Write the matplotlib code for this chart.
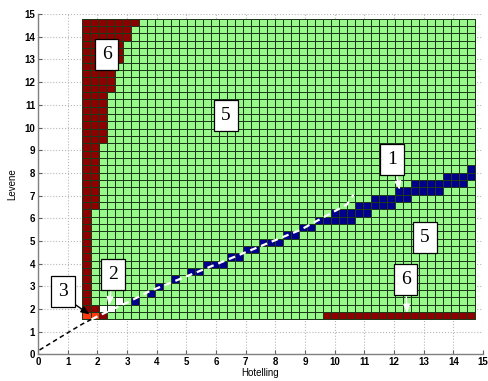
import numpy as np
import matplotlib
matplotlib.use('Agg')
import matplotlib.pyplot as plt
from matplotlib.colors import ListedColormap, BoundaryNorm

# ---------------- data ----------------
x_ticks = list(range(0, 16))
y_ticks = list(range(0, 16))

# cell grid (Hotelling x Levene)
n_cols = 49
n_rows = 41
x_range = (1.5, 14.74)
y_range = (1.55, 14.8)

# region codes: 5 = green, 1 = blue, 2 = white, 3 = orange-red, 6 = dark red
# number of dark-red cells on the left, per row (bottom -> top)
left_red_width = [3, 2] + [1] * 13 + [2] * 9 + [3] * 7 + [4] * 4 + [5] * 3 + [6] * 2 + [7]
bottom_red_first_col = 30          # dark-red bottom strip (row 0)
blue_cols = [6, 8, 9, 11, 13, 14, 15, 16, 17, 18, 19, 20, 21, 22, 23, 24, 25, 26, 27, 28,
             29, 30, 31, 32, 33, 34, 35, 36, 37, 38, 39, 40, 41, 42, 43, 44, 45, 46, 47, 48]
blue_lo = [2, 3, 4, 5, 6, 6, 7, 7, 7, 8, 8, 9, 9, 10, 10, 10, 11, 11, 12, 12,
           13, 13, 13, 13, 13, 14, 14, 15, 15, 15, 16, 16, 17, 17, 17, 17, 18, 18, 18, 19]
blue_hi = [2, 3, 4, 5, 6, 6, 7, 7, 7, 8, 8, 9, 9, 10, 10, 10, 11, 11, 12, 12,
           13, 13, 14, 14, 14, 15, 15, 16, 16, 16, 17, 17, 18, 18, 18, 18, 19, 19, 19, 20]
white_cells = [(2, 1), (3, 1), (4, 2)]
orange_cells = [(0, 0), (1, 0)]

# boundary curve
curve_x = [0.05, 0.5, 1.0, 1.5, 1.8, 2.0, 2.5, 3.08, 3.74, 5.5, 7.0, 8.85, 10.0, 10.41, 10.63]
curve_y = [0.19, 0.55, 0.95, 1.34, 1.54, 1.67, 1.98, 2.33, 2.77, 3.70, 4.50, 5.49, 6.31, 6.60, 7.04]
curve_split = 4   # index where the curve enters the grid

# labels: (text, x, y, arrow_from, arrow_to, arrow_color)
labels = [
    ('6', 2.31, 13.23, None, None, None),
    ('5', 6.34, 10.53, None, None, None),
    ('1', 11.93, 8.57, (12.08, 7.97), (12.19, 7.25), 'white'),
    ('5', 13.04, 5.14, None, None, None),
    ('6', 12.39, 3.28, (12.41, 2.67), (12.44, 1.82), 'white'),
    ('2', 2.54, 3.53, (2.47, 2.96), (2.39, 2.15), 'white'),
    ('3', 0.84, 2.77, (1.19, 2.25), (1.74, 1.76), 'black'),
]

# ---------------- build region matrix ----------------
Z = np.full((n_rows, n_cols), 5)
for r, w in enumerate(left_red_width):
    Z[r, :w] = 6
Z[0, bottom_red_first_col:] = 6
for c, lo, hi in zip(blue_cols, blue_lo, blue_hi):
    Z[lo:hi + 1, c] = 1
for c, r in white_cells:
    Z[r, c] = 2
for c, r in orange_cells:
    Z[r, c] = 3

codes = [1, 2, 3, 5, 6]
colors = ['#00008c', '#ffffff', '#ff3a10', '#98f98a', '#8c0000']
idx = np.searchsorted(codes, Z)
cmap = ListedColormap(colors)
norm = BoundaryNorm(np.arange(-0.5, len(codes) + 0.5, 1), cmap.N)

xe = np.linspace(x_range[0], x_range[1], n_cols + 1)
ye = np.linspace(y_range[0], y_range[1], n_rows + 1)

# ---------------- plot ----------------
fig = plt.figure(figsize=(4.89, 3.81), dpi=100)
ax = fig.add_axes([0.0777, 0.070, 0.910, 0.893])

ax.set_axisbelow(True)
ax.grid(True, linestyle=':', color='#b8b8b8', linewidth=0.8)

ax.pcolormesh(xe, ye, idx, cmap=cmap, norm=norm, edgecolors='#1a3a1a', linewidth=0.6)

ax.plot(curve_x[:curve_split + 1], curve_y[:curve_split + 1], color='black',
        linestyle=(0, (3, 2.2)), linewidth=1.1)
ax.plot(curve_x[curve_split:], curve_y[curve_split:], color='white',
        linestyle=(0, (3, 2.2)), linewidth=1.6)

for txt, x, y, a0, a1, col in labels:
    if a0 is not None:
        ax.annotate('', xy=a1, xytext=a0,
                    arrowprops=dict(arrowstyle='-|>,head_length=0.5,head_width=0.2',
                                    color=col, lw=1.0, shrinkA=0, shrinkB=0))
    ax.text(x, y, txt, ha='center', va='center', fontsize=14,
            family=['Liberation Serif', 'DejaVu Serif'],
            bbox=dict(boxstyle='square,pad=0.36', fc='white', ec='black', lw=0.9))

ax.set_xlim(0, 15)
ax.set_ylim(0, 15)
ax.set_xticks(x_ticks)
ax.set_yticks(y_ticks)
ax.tick_params(direction='in', length=3, width=0.8, color='#606060', labelsize=7, pad=2)
for lab in ax.get_xticklabels() + ax.get_yticklabels():
    lab.set_fontweight('bold')
    lab.set_family(['Liberation Sans', 'DejaVu Sans'])
for s in ['top', 'right']:
    ax.spines[s].set_visible(False)
for s in ['left', 'bottom']:
    ax.spines[s].set_color('#808080')
    ax.spines[s].set_linewidth(1.0)

ax.set_xlabel('Hotelling', fontsize=7, family=['Liberation Sans', 'DejaVu Sans'], labelpad=1)
ax.set_ylabel('Levene', fontsize=7, family=['Liberation Sans', 'DejaVu Sans'], labelpad=5)

fig.savefig('out.png', dpi=100)
